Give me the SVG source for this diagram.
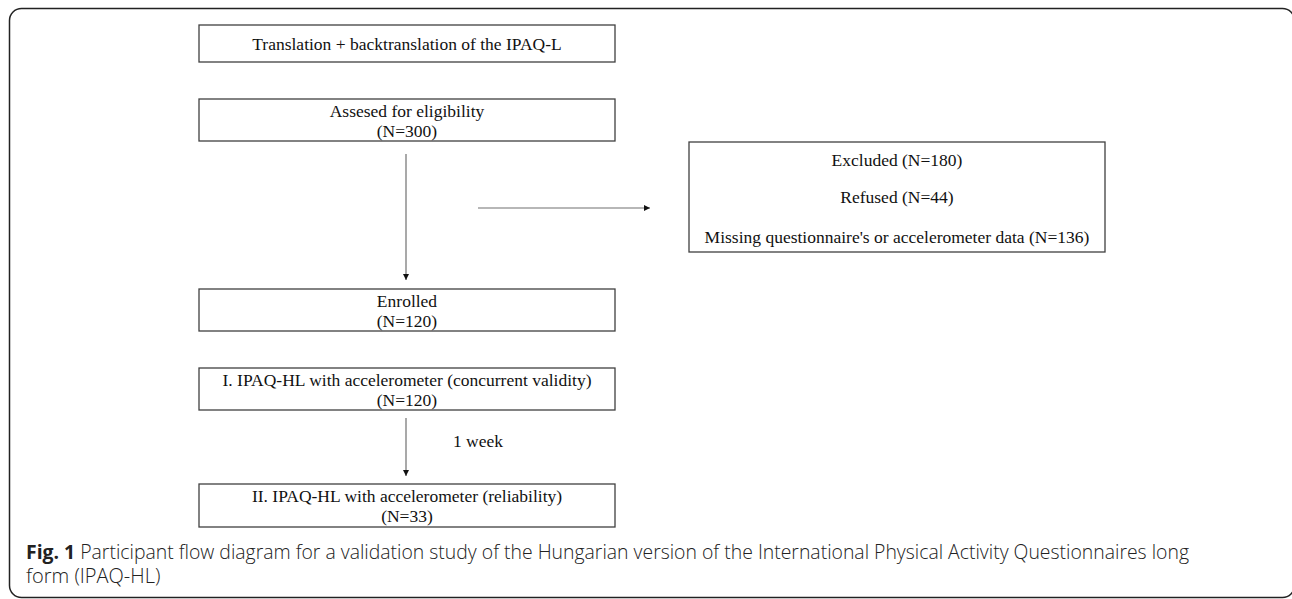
<svg xmlns="http://www.w3.org/2000/svg" width="1292" height="599" viewBox="0 0 1292 599">
<style>
.box{fill:#fff;stroke:#404040;stroke-width:1.3}
.t{font-family:"Liberation Serif","Times New Roman",serif;font-size:17.5px;fill:#111;text-anchor:middle}
.c{stroke:#707070;stroke-width:1.2;fill:none}
.cap{font-family:"Open Sans","Noto Sans",sans-serif;font-size:20px;fill:#222}
</style>
<defs>
<marker id="ah" viewBox="0 0 10 10" refX="10" refY="5" markerWidth="6" markerHeight="6" markerUnits="userSpaceOnUse" orient="auto">
<path d="M0,0 L10,5 L0,10 z" fill="#111"/>
</marker>
</defs>
<rect x="9.5" y="8.5" width="1285" height="589" rx="12" fill="#fff" stroke="#222" stroke-width="1.5"/>
<g id="n1"><rect class="box" x="199" y="25" width="416" height="37"/><text class="t" x="407" y="50">Translation + backtranslation of the IPAQ-L</text></g>
<g id="n2"><rect class="box" x="199" y="99" width="416" height="42"/><text class="t" x="407" y="117">Assesed for eligibility</text><text class="t" x="407" y="137">(N=300)</text></g>
<g id="n3"><rect class="box" x="689" y="142" width="416" height="110"/><text class="t" x="897" y="166">Excluded (N=180)</text><text class="t" x="897" y="203">Refused (N=44)</text><text class="t" x="897" y="243">Missing questionnaire's or accelerometer data (N=136)</text></g>
<g id="n4"><rect class="box" x="199" y="289" width="416" height="42"/><text class="t" x="407" y="307">Enrolled</text><text class="t" x="407" y="327">(N=120)</text></g>
<g id="n5"><rect class="box" x="199" y="368" width="416" height="42"/><text class="t" x="407" y="386">I. IPAQ-HL with accelerometer (concurrent validity)</text><text class="t" x="407" y="406">(N=120)</text></g>
<g id="n6"><rect class="box" x="199" y="484" width="416" height="43"/><text class="t" x="407" y="502">II. IPAQ-HL with accelerometer (reliability)</text><text class="t" x="407" y="522">(N=33)</text></g>
<g id="connectors">
<line class="c" x1="406" y1="154" x2="406" y2="280" marker-end="url(#ah)"/>
<line class="c" x1="478" y1="208" x2="650" y2="208" marker-end="url(#ah)"/>
<line class="c" x1="406" y1="418" x2="406" y2="476" marker-end="url(#ah)"/>
<text class="t" x="478" y="447">1 week</text>
</g>
<text class="cap" font-weight="300"><tspan x="26" y="559" textLength="1163" lengthAdjust="spacingAndGlyphs"><tspan font-weight="700">Fig. 1</tspan> Participant flow diagram for a validation study of the Hungarian version of the International Physical Activity Questionnaires long</tspan><tspan x="26" y="583">form (IPAQ-HL)</tspan></text>
</svg>
